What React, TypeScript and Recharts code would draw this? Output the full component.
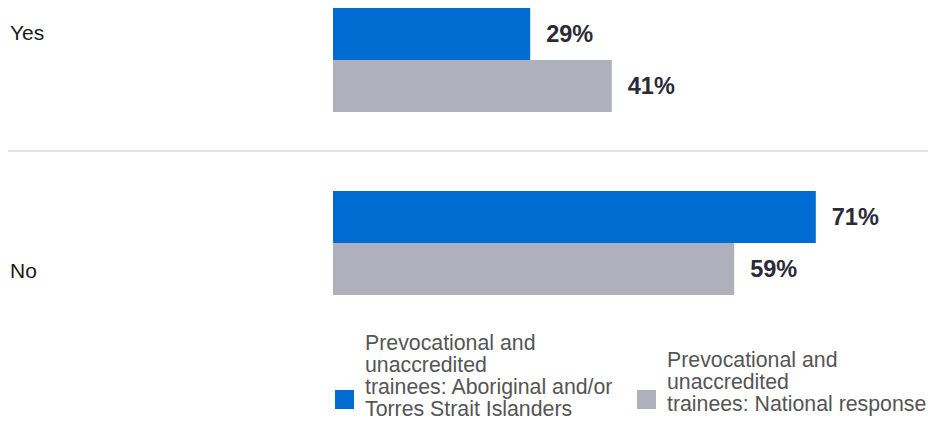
import React from 'react';
import { BarChart, Bar, XAxis, YAxis, LabelList, Legend, ReferenceLine } from 'recharts';

const categories = ['Yes', 'No'];
const aboriginalValues = [29, 71];
const nationalValues = [41, 59];
const seriesNames = [
  'Prevocational and unaccredited trainees: Aboriginal and/or Torres Strait Islanders',
  'Prevocational and unaccredited trainees: National response',
];
const legendLines = [
  ['Prevocational and', 'unaccredited', 'trainees: Aboriginal and/or', 'Torres Strait Islanders'],
  ['Prevocational and', 'unaccredited', 'trainees: National response'],
];
const colors = ['#006BD1', '#B0B0BD'];

const data = categories.map((c, i) => ({
  category: c,
  aboriginal: aboriginalValues[i],
  national: nationalValues[i],
}));

const FONT = '"Liberation Sans", Arial, Helvetica, sans-serif';
const W = 928;
const H = 421;
const CAT_DY = [-27, 28];

const CatTick = (props: any) => {
  const { y, payload, index } = props;
  return (
    <text x={10} y={y + (CAT_DY[index] ?? 0)} dy="0.355em" fontSize={21} fill="#1a1a1a" fontFamily={FONT} textAnchor="start">
      {payload.value}
    </text>
  );
};

const LegendContent = (props: any) => {
  const payload = props.payload || [];
  const itemLeft = [0, 302];
  const textTop = [0, 17];
  return (
    <div style={{ position: 'relative', width: 593, height: 88, fontFamily: FONT }}>
      {payload.map((entry: any, i: number) => {
        const lines = legendLines[i] || [entry.value];
        return (
          <React.Fragment key={i}>
            <div
              style={{
                position: 'absolute',
                left: itemLeft[i],
                top: 58,
                width: 19,
                height: 19,
                background: entry.color,
              }}
            />
            <div
              style={{
                position: 'absolute',
                left: itemLeft[i] + 30,
                top: textTop[i],
                fontSize: 21.3,
                lineHeight: '22px',
                color: '#555555',
                whiteSpace: 'nowrap',
              }}
            >
              {lines.map((l, j) => (
                <div key={j}>{l}</div>
              ))}
            </div>
          </React.Fragment>
        );
      })}
    </div>
  );
};

export default function App() {
  return (
    <div style={{ position: 'absolute', left: 0, top: 0, width: W, height: H, overflow: 'hidden', background: '#fff', fontFamily: FONT }}>
      <BarChart
        width={W}
        height={H}
        data={data}
        layout="vertical"
        margin={{ top: -32, right: -85, bottom: 87, left: 0 }}
        barGap={0}
      >
        <XAxis type="number" domain={[0, 100]} hide />
        <YAxis
          type="category"
          dataKey="category"
          width={333}
          axisLine={false}
          tickLine={false}
          tick={<CatTick />}
        />
        <ReferenceLine
          y="Yes"
          position="end"
          ifOverflow="visible"
          shape={(p: any) => (
            <line x1={8} y1={p.y1} x2={W} y2={p.y2} stroke="#DADADA" strokeWidth={1.5} />
          )}
        />
        <Bar dataKey="aboriginal" name={seriesNames[0]} fill={colors[0]} barSize={52} isAnimationActive={false}>
          <LabelList
            dataKey="aboriginal"
            position="right"
            offset={16}
            formatter={(v: any) => `${v}%`}
            style={{ fontWeight: 'bold', fontSize: 23.5, fill: '#2B2B38', fontFamily: FONT }}
          />
        </Bar>
        <Bar dataKey="national" name={seriesNames[1]} fill={colors[1]} barSize={52} isAnimationActive={false}>
          <LabelList
            dataKey="national"
            position="right"
            offset={16}
            formatter={(v: any) => `${v}%`}
            style={{ fontWeight: 'bold', fontSize: 23.5, fill: '#2B2B38', fontFamily: FONT }}
          />
        </Bar>
        <Legend
          layout="horizontal"
          verticalAlign="middle"
          align="center"
          wrapperStyle={{ left: 335, top: 332, width: 593, height: 88 }}
          content={<LegendContent />}
        />
      </BarChart>
    </div>
  );
}
